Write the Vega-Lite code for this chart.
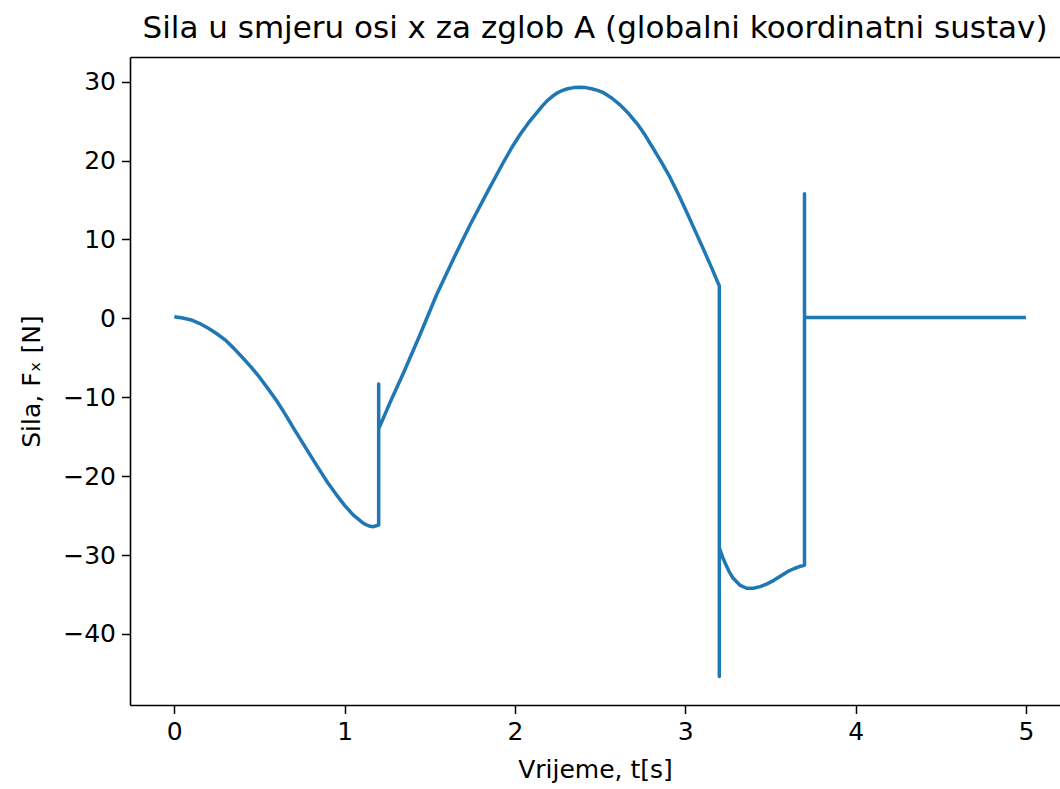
{
  "$schema": "https://vega.github.io/schema/vega-lite/v6.json",
  "width": 930,
  "height": 648,
  "autosize": {"type": "none"},
  "padding": {"left": 130, "top": 57, "right": 0, "bottom": 84},
  "background": "white",
  "title": {
    "text": "Sila u smjeru osi x za zglob A (globalni koordinatni sustav)",
    "font": "DejaVu Sans",
    "fontSize": 31,
    "fontWeight": "normal",
    "color": "black",
    "anchor": "middle",
    "offset": 12
  },
  "config": {
    "view": {"stroke": null},
    "axis": {
      "labelFont": "DejaVu Sans",
      "labelFontSize": 25,
      "labelColor": "black",
      "titleFont": "DejaVu Sans",
      "titleFontSize": 25,
      "titleFontWeight": "normal",
      "titleColor": "black",
      "domainColor": "black",
      "domainWidth": 1.6,
      "tickColor": "black",
      "tickWidth": 1.5,
      "tickSize": 8.5,
      "grid": false
    }
  },
  "data": {
    "values": [
      {"i": 0, "t": 0.0, "F": 0.2},
      {"i": 1, "t": 0.05, "F": 0.05},
      {"i": 2, "t": 0.1, "F": -0.2},
      {"i": 3, "t": 0.15, "F": -0.65},
      {"i": 4, "t": 0.2, "F": -1.25},
      {"i": 5, "t": 0.25, "F": -1.95},
      {"i": 6, "t": 0.3, "F": -2.75},
      {"i": 7, "t": 0.35, "F": -3.8},
      {"i": 8, "t": 0.4, "F": -4.95},
      {"i": 9, "t": 0.45, "F": -6.15},
      {"i": 10, "t": 0.5, "F": -7.45},
      {"i": 11, "t": 0.55, "F": -8.9},
      {"i": 12, "t": 0.6, "F": -10.4},
      {"i": 13, "t": 0.65, "F": -12.1},
      {"i": 14, "t": 0.7, "F": -13.9},
      {"i": 15, "t": 0.75, "F": -15.65},
      {"i": 16, "t": 0.8, "F": -17.4},
      {"i": 17, "t": 0.85, "F": -19.1},
      {"i": 18, "t": 0.9, "F": -20.8},
      {"i": 19, "t": 0.95, "F": -22.3},
      {"i": 20, "t": 1.0, "F": -23.7},
      {"i": 21, "t": 1.05, "F": -24.9},
      {"i": 22, "t": 1.1, "F": -25.8},
      {"i": 23, "t": 1.125, "F": -26.15},
      {"i": 24, "t": 1.15, "F": -26.35},
      {"i": 25, "t": 1.17, "F": -26.4},
      {"i": 26, "t": 1.19, "F": -26.25},
      {"i": 27, "t": 1.2, "F": -26.2},
      {"i": 28, "t": 1.2, "F": -8.3},
      {"i": 29, "t": 1.2, "F": -14.0},
      {"i": 30, "t": 1.27, "F": -10.5},
      {"i": 31, "t": 1.35, "F": -6.7},
      {"i": 32, "t": 1.44, "F": -2.2},
      {"i": 33, "t": 1.54, "F": 3.0},
      {"i": 34, "t": 1.64, "F": 7.6},
      {"i": 35, "t": 1.74, "F": 12.0},
      {"i": 36, "t": 1.84, "F": 16.1},
      {"i": 37, "t": 1.93, "F": 19.7},
      {"i": 38, "t": 1.98, "F": 21.6},
      {"i": 39, "t": 2.03, "F": 23.3},
      {"i": 40, "t": 2.08, "F": 24.8},
      {"i": 41, "t": 2.13, "F": 26.1},
      {"i": 42, "t": 2.16, "F": 26.9},
      {"i": 43, "t": 2.19, "F": 27.6},
      {"i": 44, "t": 2.22, "F": 28.15},
      {"i": 45, "t": 2.25, "F": 28.6},
      {"i": 46, "t": 2.28, "F": 28.9},
      {"i": 47, "t": 2.31, "F": 29.1},
      {"i": 48, "t": 2.345, "F": 29.25},
      {"i": 49, "t": 2.38, "F": 29.3},
      {"i": 50, "t": 2.415, "F": 29.25},
      {"i": 51, "t": 2.45, "F": 29.1},
      {"i": 52, "t": 2.485, "F": 28.9},
      {"i": 53, "t": 2.52, "F": 28.6},
      {"i": 54, "t": 2.57, "F": 27.9},
      {"i": 55, "t": 2.62, "F": 27.0},
      {"i": 56, "t": 2.67, "F": 25.9},
      {"i": 57, "t": 2.72, "F": 24.6},
      {"i": 58, "t": 2.765, "F": 23.2},
      {"i": 59, "t": 2.81, "F": 21.6},
      {"i": 60, "t": 2.86, "F": 19.8},
      {"i": 61, "t": 2.91, "F": 17.9},
      {"i": 62, "t": 2.96, "F": 15.7},
      {"i": 63, "t": 3.01, "F": 13.4},
      {"i": 64, "t": 3.06, "F": 11.0},
      {"i": 65, "t": 3.11, "F": 8.6},
      {"i": 66, "t": 3.155, "F": 6.4},
      {"i": 67, "t": 3.2, "F": 4.1},
      {"i": 68, "t": 3.2, "F": -45.4},
      {"i": 69, "t": 3.2, "F": -29.1},
      {"i": 70, "t": 3.22, "F": -30.3},
      {"i": 71, "t": 3.24, "F": -31.3},
      {"i": 72, "t": 3.26, "F": -32.2},
      {"i": 73, "t": 3.28, "F": -32.9},
      {"i": 74, "t": 3.32, "F": -33.8},
      {"i": 75, "t": 3.36, "F": -34.2},
      {"i": 76, "t": 3.4, "F": -34.2},
      {"i": 77, "t": 3.44, "F": -34.0},
      {"i": 78, "t": 3.48, "F": -33.65},
      {"i": 79, "t": 3.52, "F": -33.2},
      {"i": 80, "t": 3.56, "F": -32.65},
      {"i": 81, "t": 3.6, "F": -32.1},
      {"i": 82, "t": 3.64, "F": -31.7},
      {"i": 83, "t": 3.67, "F": -31.45},
      {"i": 84, "t": 3.7, "F": -31.3},
      {"i": 85, "t": 3.7, "F": 15.8},
      {"i": 86, "t": 3.7, "F": 0.1},
      {"i": 87, "t": 5.0, "F": 0.1}
    ]
  },
  "layer": [
    {
      "mark": {"type": "line", "color": "#1f77b4", "strokeWidth": 3.5, "strokeJoin": "round", "strokeCap": "butt"},
      "encoding": {
        "x": {
          "field": "t", "type": "quantitative",
          "scale": {"domain": [-0.26, 5.2], "nice": false, "zero": false},
          "axis": {"orient": "bottom", "values": [0, 1, 2, 3, 4, 5], "format": "d", "labelPadding": 6, "title": "Vrijeme, t[s]", "titlePadding": 13}
        },
        "y": {
          "field": "F", "type": "quantitative",
          "scale": {"domain": [-49.0, 33.13], "nice": false, "zero": false},
          "axis": {"values": [-40, -30, -20, -10, 0, 10, 20, 30], "format": "d", "labelPadding": 6, "title": "Sila, Fₓ [N]", "titlePadding": 18}
        },
        "order": {"field": "i", "type": "quantitative"}
      }
    },
    {
      "mark": {"type": "line", "strokeOpacity": 0},
      "encoding": {
        "x": {
          "field": "t", "type": "quantitative",
          "scale": {"domain": [-0.26, 5.2], "nice": false, "zero": false},
          "axis": {"orient": "top", "labels": false, "ticks": false, "title": null}
        },
        "y": {"field": "F", "type": "quantitative"},
        "order": {"field": "i", "type": "quantitative"}
      }
    }
  ],
  "resolve": {"axis": {"x": "independent"}}
}
